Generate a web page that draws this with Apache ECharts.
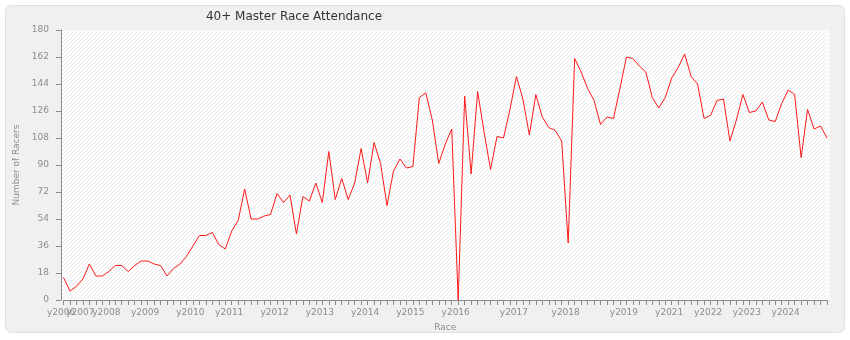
<!DOCTYPE html>
<html>
<head>
<meta charset="utf-8">
<script src="https://cdn.jsdelivr.net/npm/echarts@6/dist/echarts.min.js"></script>
<style>
  html, body { margin: 0; padding: 0; background: #ffffff; }
  #chart { width: 850px; height: 340px; }
</style>
</head>
<body>
<div id="chart"></div>
<script>
// Racers per race, in race order
const attendance = [
  15, 6, 9, 14, 24, 16, 16, 19, 23, 23, 19, 23, 26, 26, 24, 23, 16, 21, 24, 29, 36,
  43, 43, 45, 37, 34, 46, 53, 74, 54, 54,
  56, 57, 71, 65, 70, 44, 69, 66, 78, 65, 99, 67, 81, 67, 78, 101, 78, 105, 91, 63,
  86, 94, 88, 89, 135, 138, 120, 91, 104, 114,
  0, 136, 84, 139, 112, 87, 109, 108, 127, 149, 134, 110, 137, 122, 115, 113, 106, 38,
  161, 152, 141, 133, 117, 122, 121, 141, 162, 161, 156, 152,
  135, 128, 135, 148, 155, 164, 149, 144, 121, 123, 133, 134, 106, 120, 137, 125, 126,
  132, 120, 119, 131, 140, 137, 95, 127, 114, 116, 108
];
// Year tick labels and the race index where each year starts
const yearLabels = ['y2006','y2007','y2008','y2009','y2010','y2011','y2012','y2013','y2014',
  'y2015','y2016','y2017','y2018','y2019','y2021','y2022','y2023','y2024'];
const yearStartIndex = [0, 3, 7, 13, 20, 26, 33, 40, 47, 54, 61, 70, 78, 87, 94, 100, 106, 112];
const yAxisTicks = { min: 0, max: 180, interval: 18 };

const categories = attendance.map((v, i) => {
  const k = yearStartIndex.indexOf(i);
  return k >= 0 ? yearLabels[k] : 'r' + (i + 1);
});
// the second year label overlaps the first one, so it is drawn by an overlaid label-only axis
const overlapLabelIndex = [yearStartIndex[1]];

// diagonal hatch pattern for the plot area
const pat = document.createElement('canvas');
pat.width = 4; pat.height = 4;
const pctx = pat.getContext('2d');
pctx.fillStyle = '#ffffff';
pctx.fillRect(0, 0, 4, 4);
pctx.fillStyle = '#eaeaea';
for (let x = 0; x < 4; x++) {
  for (let y = 0; y < 4; y++) {
    if ((x + y) % 4 === 0) pctx.fillRect(x, y, 1, 1);
  }
}

const FONT = '"DejaVu Sans", Verdana, sans-serif';
const GRAY = '#8c8c8c';

const labelStyle = {
  color: GRAY,
  fontSize: 9,
  fontFamily: FONT,
  margin: 8,
  padding: [0, 5, 0, 0],
  hideOverlap: false,
  showMinLabel: true,
  showMaxLabel: true,
  formatter: (v) => (v.charAt(0) === 'y' ? v : '')
};

const chart = echarts.init(document.getElementById('chart'), null, { renderer: 'canvas' });
chart.setOption({
  animation: false,
  backgroundColor: '#ffffff',
  graphic: [
    {
      type: 'rect', z: -20, silent: true,
      shape: { x: 5.5, y: 5.5, width: 839, height: 327, r: 6 },
      style: { fill: '#f0f0f0', stroke: '#e0e0e0', lineWidth: 1 }
    },
    {
      type: 'rect', z: -10, silent: true,
      shape: { x: 61, y: 30, width: 769, height: 270 },
      style: { fill: { image: pat, repeat: 'repeat' } }
    },
    {
      type: 'text', z: 10, silent: true,
      x: 294, y: 17,
      style: {
        text: '40+ Master Race Attendance',
        fill: '#333333',
        font: '12px ' + FONT,
        textAlign: 'center',
        textVerticalAlign: 'middle'
      }
    }
  ],
  grid: { left: 63.5, right: 23, top: 30, bottom: 40, containLabel: false },
  xAxis: [
    {
      type: 'category',
      data: categories,
      boundaryGap: false,
      name: 'Race',
      nameLocation: 'middle',
      nameGap: 23,
      nameTextStyle: { color: GRAY, fontSize: 9, fontFamily: FONT },
      axisLine: { show: true, lineStyle: { color: GRAY, width: 1 } },
      axisTick: { show: true, interval: 0, length: 5, lineStyle: { color: GRAY } },
      axisLabel: Object.assign({}, labelStyle, {
        interval: (i) => yearStartIndex.indexOf(i) >= 0 && overlapLabelIndex.indexOf(i) < 0
      }),
      splitLine: { show: false }
    },
    {
      type: 'category',
      data: categories,
      boundaryGap: false,
      position: 'bottom',
      offset: 0,
      axisLine: { show: false },
      axisTick: { show: false },
      axisLabel: Object.assign({}, labelStyle, {
        interval: (i) => overlapLabelIndex.indexOf(i) >= 0
      }),
      splitLine: { show: false }
    }
  ],
  yAxis: {
    type: 'value',
    min: yAxisTicks.min,
    max: yAxisTicks.max,
    interval: yAxisTicks.interval,
    offset: 2.5,
    name: 'Number of Racers',
    nameLocation: 'middle',
    nameGap: 34,
    nameTextStyle: { color: GRAY, fontSize: 9, fontFamily: FONT },
    axisLine: { show: true, lineStyle: { color: GRAY, width: 1 } },
    axisTick: { show: true, length: 5, lineStyle: { color: GRAY } },
    axisLabel: { color: GRAY, fontSize: 9, fontFamily: FONT, margin: 12 },
    splitLine: { show: false }
  },
  series: [{
    type: 'line',
    xAxisIndex: 0,
    data: attendance,
    symbol: 'none',
    lineStyle: { color: '#ff1a1a', width: 1 },
    itemStyle: { color: '#ff1a1a' }
  }]
});
</script>
</body>
</html>
